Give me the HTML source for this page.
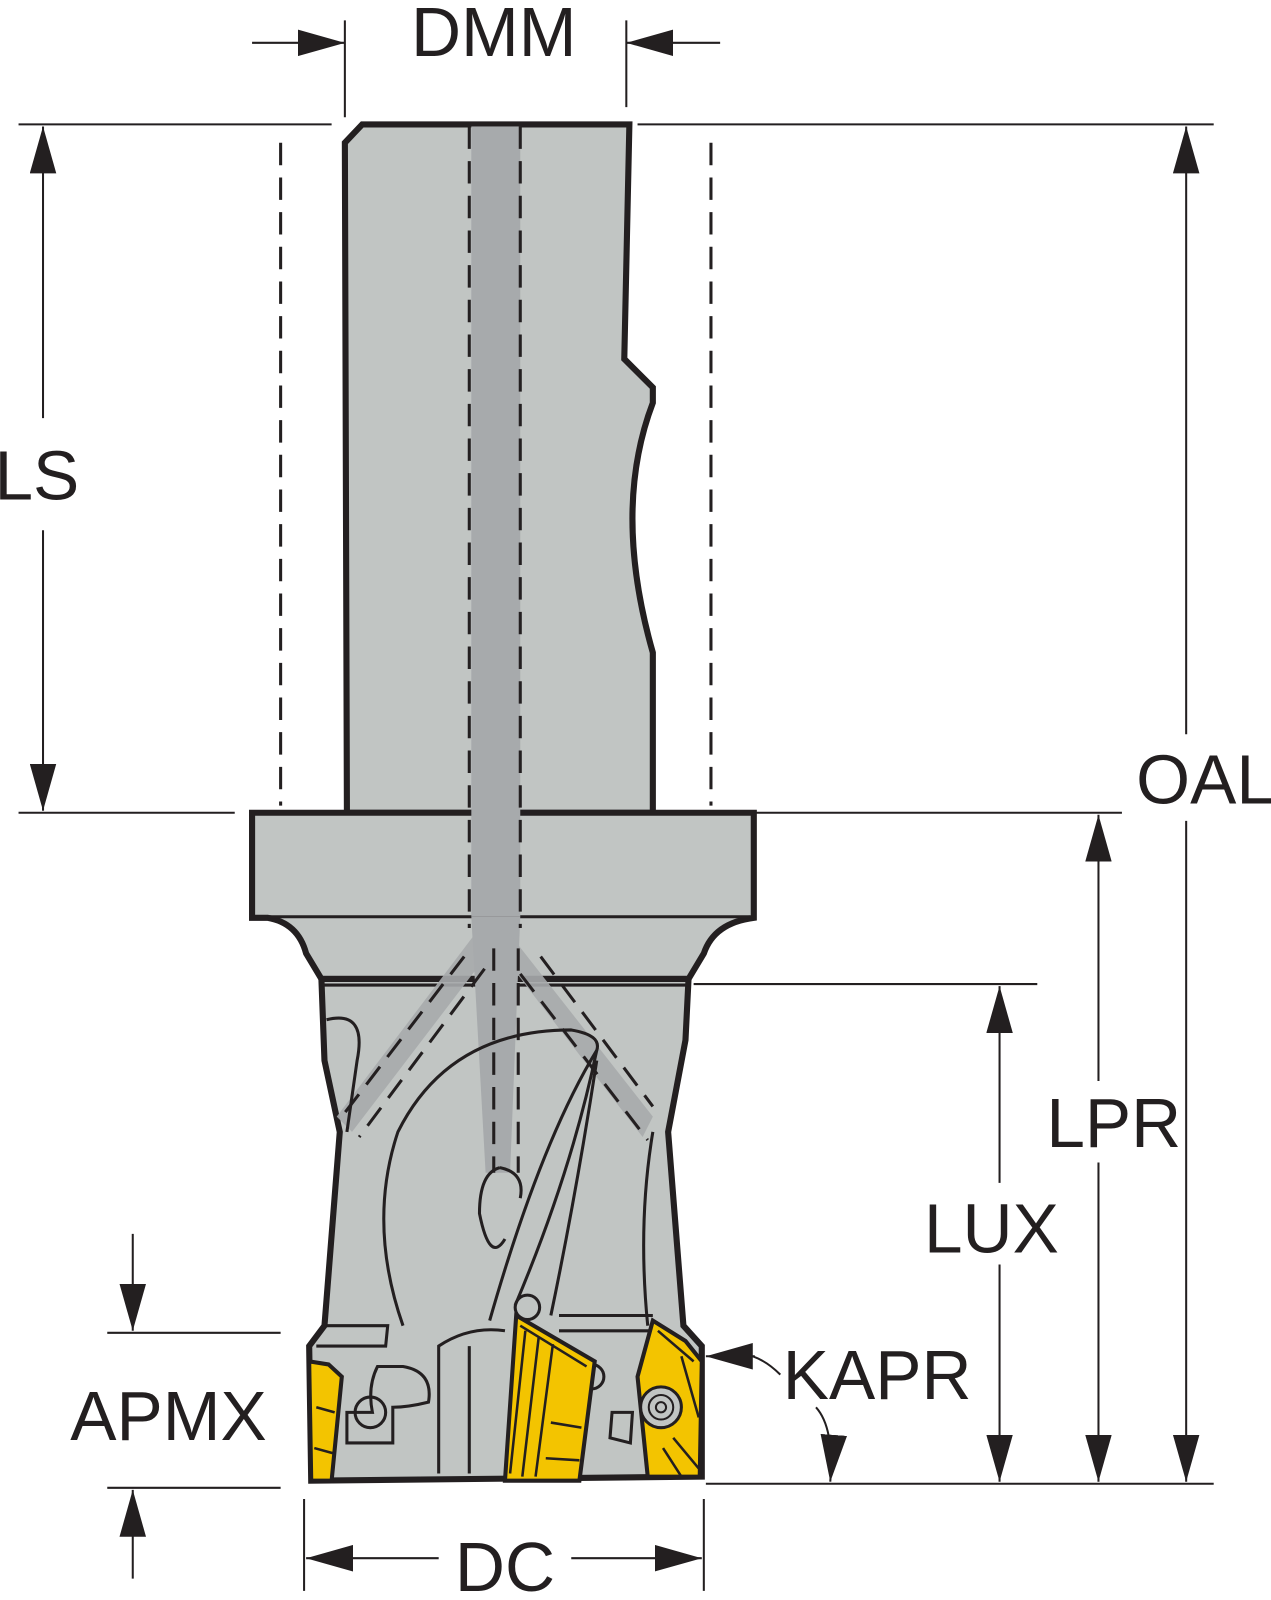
<!DOCTYPE html>
<html><head><meta charset="utf-8"><style>
html,body{margin:0;padding:0;background:#fff;width:1271px;height:1600px;overflow:hidden}
svg{display:block}
text{font-family:"Liberation Sans Narrow","Liberation Sans",sans-serif;fill:#231f20}
</style></head><body>
<svg width="1271" height="1600" viewBox="0 0 1246 1569" xmlns="http://www.w3.org/2000/svg">
<defs>
<marker id="a" viewBox="0 0 46 26" refX="46" refY="13" markerWidth="46" markerHeight="26" markerUnits="userSpaceOnUse" orient="auto"><path d="M0,0 L46,13 L0,26 z" fill="#231f20"/></marker>
</defs>
<g stroke="#231f20" fill="none">
<path d="M355,122 L617,122 L612,352 L640,380 L640,395 Q600,500 640,640 L640,797 L340,797 L338,140 Z" fill="#c1c5c3" stroke-width="6"/>
<path d="M247,797 L739,797 L739,900 Q700,905 690,935 L675,960 L315,960 L300,935 Q292,905 262,900 L247,900 Z" fill="#c1c5c3" stroke-width="6"/>
<path d="M315,960 L675,960 L672,1020 L655,1110 L670,1300 L688,1320 L688,1448 L305,1452 L303,1320 L318,1300 L333,1110 L318,1040 Z" fill="#c1c5c3" stroke-width="6"/>
<line x1="262" y1="899" x2="735" y2="899" stroke-width="3"/>
<line x1="315" y1="966" x2="675" y2="966" stroke-width="3"/>
<rect x="462" y="124" width="48" height="775" fill="#a7aaac" stroke="none"/>
<path d="M462,899 L510,899 L500,1150 L476,1150 Z" fill="#a7aaac" stroke="none"/>
<path d="M470,910 L330,1095 L345,1110 L490,920 Z" fill="#a7aaac" stroke="none" opacity=".9"/>
<path d="M495,910 L640,1095 L630,1115 L480,920 Z" fill="#a7aaac" stroke="none" opacity=".9"/>
<g stroke-width="3" stroke-dasharray="22,12">
<line x1="275" y1="140" x2="275" y2="790"/>
<line x1="697" y1="140" x2="697" y2="790"/>
<line x1="460" y1="124" x2="460" y2="910"/>
<line x1="510" y1="124" x2="510" y2="910"/>
<line x1="484" y1="930" x2="484" y2="1150"/>
<line x1="508" y1="930" x2="508" y2="1150"/>
<line x1="455" y1="938" x2="335" y2="1095"/>
<line x1="475" y1="950" x2="352" y2="1115"/>
<line x1="530" y1="938" x2="640" y2="1085"/>
<line x1="510" y1="955" x2="635" y2="1118"/>
</g>
<g stroke-width="3">
<path d="M320,1000 Q360,990 350,1040 L340,1110"/>
<path d="M395,1300 Q360,1200 390,1110 Q440,1010 560,1010 Q590,1015 585,1030 Q530,1120 480,1295"/>
<path d="M585,1030 Q560,1150 505,1280"/>
<path d="M585,1040 Q565,1170 540,1290"/>
<path d="M490,1145 Q470,1150 470,1190 Q480,1240 495,1215 M490,1145 Q515,1150 510,1175"/>
<path d="M640,1110 Q625,1200 635,1300"/>
<path d="M320,1300 L380,1300 L378,1320 L310,1320"/>
<path d="M548,1290 L640,1290 M548,1305 L640,1305"/>
<path d="M430,1445 L430,1320 Q460,1300 495,1305 M460,1320 L460,1445"/>
<path d="M340,1385 L340,1415 L385,1415 L385,1380 Q400,1380 420,1375 Q425,1345 395,1340 L370,1340 Q360,1360 365,1385 Z"/>
<circle cx="363" cy="1385" r="15"/>
<path d="M600,1385 L620,1385 L618,1415 L598,1410 Z"/>
<circle cx="580" cy="1350" r="12"/>
<circle cx="517" cy="1282" r="12"/>
</g>
<path d="M303,1335 L322,1338 L335,1350 L325,1452 L305,1452 Z" fill="#f3c400" stroke-width="4"/>
<path d="M310,1380 L328,1385 M308,1420 L326,1425" stroke-width="2.5"/>
<path d="M506,1290 L583,1335 L568,1452 L495,1452 Z" fill="#f3c400" stroke-width="4"/>
<path d="M510,1300 L575,1340 M515,1305 L500,1445 M528,1312 L512,1448 M542,1318 L525,1448 M540,1395 L570,1400 M535,1430 L568,1432" stroke-width="2.5"/>
<path d="M640,1295 L672,1315 L688,1335 L686,1448 L635,1448 L625,1350 Z" fill="#f3c400" stroke-width="4"/>
<circle cx="648" cy="1380" r="20" fill="#c1c5c3" stroke-width="3"/>
<circle cx="648" cy="1380" r="12" stroke-width="2"/>
<circle cx="648" cy="1380" r="5" stroke-width="2"/>
<path d="M660,1410 L685,1440 M650,1420 L668,1448 M645,1305 L680,1335 M668,1330 L685,1390" stroke-width="2.5"/>
<g stroke-width="2">
<line x1="18" y1="122" x2="325" y2="122"/>
<line x1="625" y1="122" x2="1190" y2="122"/>
<line x1="18" y1="797" x2="230" y2="797"/>
<line x1="740" y1="797" x2="1100" y2="797"/>
<line x1="680" y1="965" x2="1017" y2="965"/>
<line x1="692" y1="1455" x2="1190" y2="1455"/>
<line x1="105" y1="1307" x2="275" y2="1307"/>
<line x1="105" y1="1459" x2="275" y2="1459"/>
<line x1="338" y1="20" x2="338" y2="115"/>
<line x1="614" y1="20" x2="614" y2="105"/>
<line x1="298" y1="1470" x2="298" y2="1560"/>
<line x1="690" y1="1470" x2="690" y2="1560"/>
<line x1="247" y1="42" x2="338" y2="42" marker-end="url(#a)"/>
<line x1="706" y1="42" x2="614" y2="42" marker-end="url(#a)"/>
<line x1="42" y1="410" x2="42" y2="124" marker-end="url(#a)"/>
<line x1="42" y1="520" x2="42" y2="795" marker-end="url(#a)"/>
<line x1="1163" y1="720" x2="1163" y2="124" marker-end="url(#a)"/>
<line x1="1163" y1="805" x2="1163" y2="1453" marker-end="url(#a)"/>
<line x1="1077" y1="1060" x2="1077" y2="799" marker-end="url(#a)"/>
<line x1="1077" y1="1140" x2="1077" y2="1453" marker-end="url(#a)"/>
<line x1="980" y1="1160" x2="980" y2="967" marker-end="url(#a)"/>
<line x1="980" y1="1240" x2="980" y2="1453" marker-end="url(#a)"/>
<line x1="130" y1="1210" x2="130" y2="1305" marker-end="url(#a)"/>
<line x1="130" y1="1548" x2="130" y2="1461" marker-end="url(#a)"/>
<line x1="430" y1="1528" x2="300" y2="1528" marker-end="url(#a)"/>
<line x1="560" y1="1528" x2="688" y2="1528" marker-end="url(#a)"/>
<line x1="740" y1="1330" x2="692" y2="1330" marker-end="url(#a)"/>
<path d="M800,1380 Q818,1400 814,1453" marker-end="url(#a)"/>
<path d="M765,1348 Q752,1335 738,1330"/>
</g>
</g>
<text x="484" y="55" font-size="68" text-anchor="middle">DMM</text>
<text x="36" y="490" font-size="68" text-anchor="middle">LS</text>
<text x="1182" y="788" font-size="68" text-anchor="middle">OAL</text>
<text x="1092" y="1125" font-size="68" text-anchor="middle">LPR</text>
<text x="972" y="1228" font-size="68" text-anchor="middle">LUX</text>
<text x="860" y="1372" font-size="68" text-anchor="middle">KAPR</text>
<text x="165" y="1412" font-size="68" text-anchor="middle">APMX</text>
<text x="495" y="1560" font-size="68" text-anchor="middle">DC</text>
</svg>
</body></html>
